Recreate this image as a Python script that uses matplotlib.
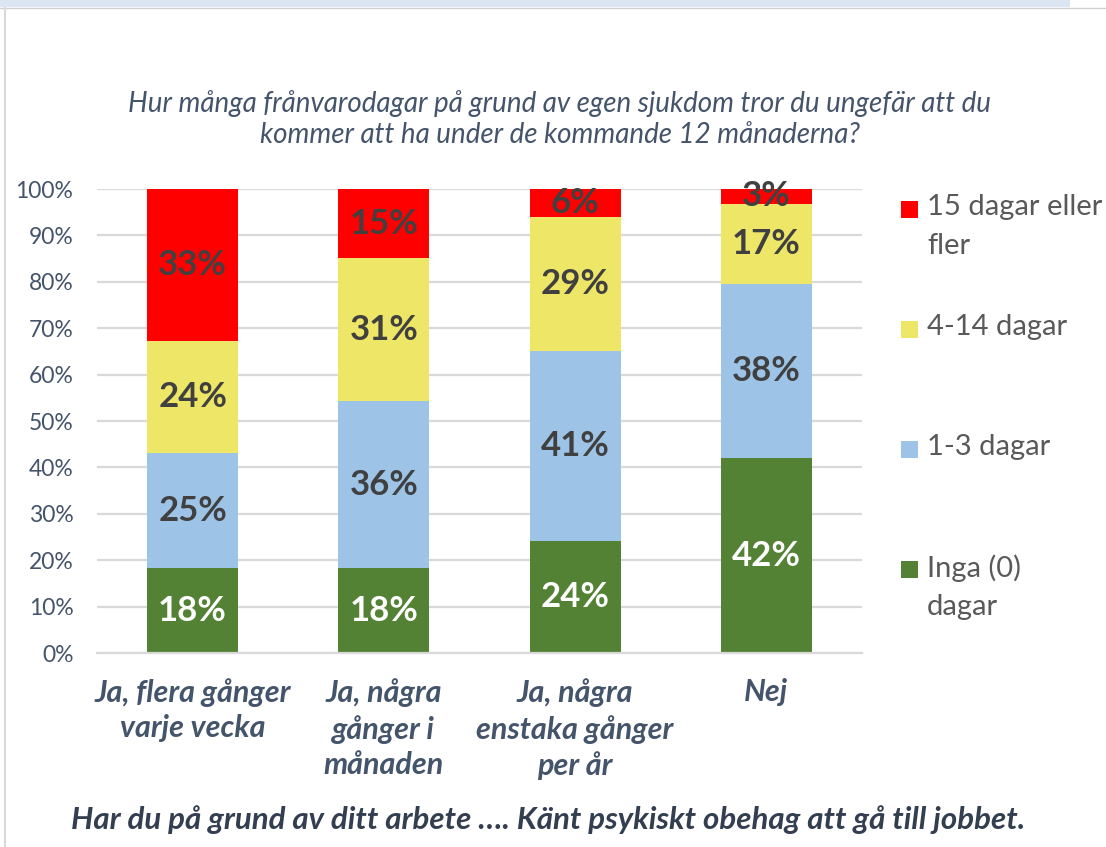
import matplotlib.pyplot as plt
from matplotlib.patches import Rectangle

plt.rcParams['font.family'] = ['Lato', 'DejaVu Sans']

categories = ['Ja, flera gånger\nvarje vecka', 'Ja, några\ngånger i\nmånaden',
              'Ja, några\nenstaka gånger\nper år', 'Nej']
series_names = ['Inga (0)\ndagar', '1-3 dagar', '4-14 dagar', '15 dagar eller\nfler']
inga = [18.3, 18.3, 24.1, 42.0]
dagar_1_3 = [24.8, 36.0, 41.0, 37.5]
dagar_4_14 = [24.1, 30.8, 28.9, 17.3]
dagar_15 = [32.8, 14.9, 6.0, 3.2]
colors = ['#548235', '#9DC3E6', '#EEE666', '#FF0000']
label_colors = ['white', '#404040', '#404040', '#404040']

title = ('Hur många frånvarodagar på grund av egen sjukdom tror du ungefär att du\n'
         'kommer att ha under de kommande 12 månaderna?')
xlabel = 'Har du på grund av ditt arbete …. Känt psykiskt obehag att gå till jobbet.'

W, H = 1106, 847
fig = plt.figure(figsize=(W / 100, H / 100), dpi=100)
ax = fig.add_axes([97 / W, 1 - 653 / H, (862 - 97) / W, (653 - 189) / H])

# frame bits from the surrounding document
fig.add_artist(Rectangle((0, 1 - 7 / H), 1070 / W, 7 / H, transform=fig.transFigure,
                         color='#DCE6F2', lw=0))
fig.add_artist(plt.Line2D([0, 1], [1 - 8 / H] * 2, transform=fig.transFigure, color='#D0D0D0', lw=1))
fig.add_artist(plt.Line2D([5 / W] * 2, [0, 1 - 8 / H], transform=fig.transFigure, color='#D9D9D9', lw=1.5))

series = [inga, dagar_1_3, dagar_4_14, dagar_15]
x = range(len(categories))
bottom = [0] * len(categories)
for vals, col, lc in zip(series, colors, label_colors):
    ax.bar(x, vals, 0.475, bottom=bottom, color=col, zorder=2)
    for i, v in enumerate(vals):
        ax.text(i, bottom[i] + v / 2, f'{round(v)}%', ha='center', va='center',
                fontsize=25, fontweight='bold', color=lc, zorder=3)
    bottom = [b + v for b, v in zip(bottom, vals)]

ax.set_xlim(-0.5, 3.5)
ax.set_ylim(0, 100)
ax.set_yticks(range(0, 101, 10))
ax.set_yticklabels([f'{t}%' for t in range(0, 101, 10)])
ax.yaxis.grid(True, color='#D9D9D9', lw=1.6, zorder=0)
ax.set_axisbelow(True)
for s in ['top', 'right', 'left']:
    ax.spines[s].set_visible(False)
ax.spines['bottom'].set_color('#D9D9D9')
ax.spines['bottom'].set_linewidth(1.6)
ax.tick_params(axis='y', length=0, pad=17, labelsize=16.5, labelcolor='#44546A')
ax.tick_params(axis='x', length=0, pad=18)
ax.set_xticks(list(x))
ax.set_xticklabels(categories, fontsize=22, fontweight='bold', fontstyle='italic',
                   color='#44546A', linespacing=1.33, va='top')

fig.text(560 / W, 1 - 119 / H, title, ha='center', va='center', fontsize=20,
         fontstyle='italic', color='#44546A', linespacing=1.25)
fig.text(548 / W, 1 - 820 / H, xlabel, ha='center', va='center', fontsize=22.5,
         fontweight='bold', fontstyle='italic', color='#333F50')

# legend, top entry first
tops = [194, 314, 434, 554]
for name, col, top in zip(series_names[::-1], colors[::-1], tops):
    fig.add_artist(Rectangle((901 / W, 1 - (top + 24) / H), 17 / W, 17 / H,
                             transform=fig.transFigure, color=col, lw=0))
    fig.text(927 / W, 1 - top / H, name, ha='left', va='top', fontsize=21,
             color='#595959', linespacing=1.6)

fig.savefig('out.png', dpi=100)
